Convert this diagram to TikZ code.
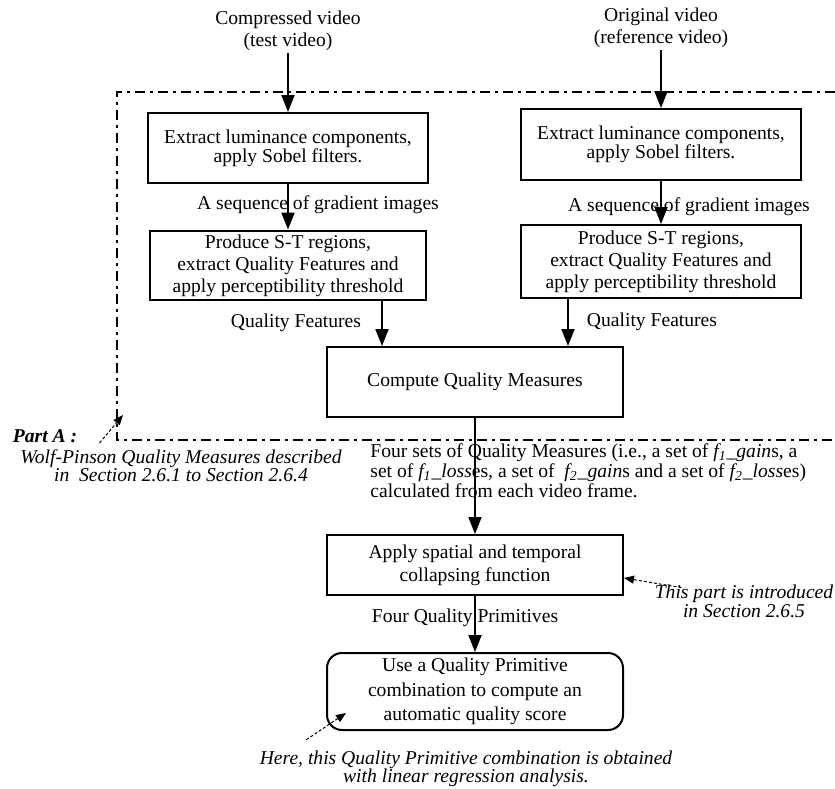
\documentclass[tikz,border=0pt]{standalone}
\usepackage{fontspec}
\setmainfont{Liberation Serif}
\usetikzlibrary{arrows.meta,positioning}
\tikzset{
  procbox/.style={draw=black, line width=1pt, align=center, inner sep=2pt, minimum width=148pt, minimum height=35pt, font=\fontsize{9.8}{11.5}\selectfont},
  flowarr/.style={-{Triangle[length=8.5pt,width=6.5pt]}, line width=1pt},
  flowlbl/.style={align=center, inner sep=1pt, font=\fontsize{9.8}{11}\selectfont},
  notetxt/.style={align=center, inner sep=1pt, font=\fontsize{9.8}{9}\selectfont\itshape},
  notearr/.style={-{Triangle[length=5pt,width=4pt]}, line width=0.5pt, dash pattern=on 1.5pt off 1pt},
  partline/.style={line width=1.1pt, dash pattern=on 5pt off 2.5pt on 1.5pt off 2.5pt}
}

\begin{document}
\begin{tikzpicture}[x=0.5pt,y=-0.5pt]
\useasboundingbox (0,0) rectangle (835,788);
% Part A frame
\draw[partline] (835,92) -- (117,92) -- (117,440) -- (835,440);

% inputs
\node[flowlbl] (cvid) at (288,31) {Compressed video\\(test video)};
\node[flowlbl] (ovid) at (661,28) {Original video\\(reference video)};

% test and reference columns
\node[procbox, minimum width=140pt, font=\fontsize{9.8}{9.5}\selectfont] (extL) at (288,148) {Extract luminance components,\\apply Sobel filters.};
\node[procbox, minimum width=140pt, minimum height=35.5pt, font=\fontsize{9.8}{9.5}\selectfont] (extR) at (661,144.5) {Extract luminance components,\\apply Sobel filters.};
\node[flowlbl] (seqL) at (318,205) {A sequence of gradient images};
\node[flowlbl] (seqR) at (689,207) {A sequence of gradient images};
\node[procbox, minimum width=138pt, minimum height=33.5pt, font=\fontsize{9.8}{11}\selectfont] (prodL) at (288,265.5) {Produce S-T regions,\\extract Quality Features and\\apply perceptibility threshold};
\node[procbox, minimum width=140pt, minimum height=36.5pt, font=\fontsize{9.8}{11}\selectfont] (prodR) at (661,261.5) {Produce S-T regions,\\extract Quality Features and\\apply perceptibility threshold};
\node[flowlbl] (qfL) at (296,323) {Quality Features};
\node[flowlbl] (qfR) at (652,322) {Quality Features};

% measures
\node[procbox] (comp) at (475,382) {Compute Quality Measures};
\node[flowlbl, anchor=west, align=left, font=\fontsize{9.8}{7.4}\selectfont] (qmeas) at (368,471) {Four sets of Quality Measures (i.e., a set of \textit{f\textsubscript{1}\_gain}s, a\\set of \textit{f\textsubscript{1}\_loss}es, a set of~ \textit{f\textsubscript{2}\_gain}s and a set of \textit{f\textsubscript{2}\_loss}es)\\calculated from each video frame.};
\node[procbox, minimum height=30pt] (apply) at (475,565) {Apply spatial and temporal\\collapsing function};
\node[flowlbl] (prims) at (465,618) {Four Quality Primitives};
\node[procbox, rounded corners=7.5pt, minimum height=38.5pt, font=\fontsize{9.8}{12.2}\selectfont] (use) at (475,691.5) {Use a Quality Primitive\\combination to compute an\\automatic quality score};

% notes
\node[notetxt, font=\fontsize{9.8}{9}\selectfont\bfseries\itshape] (partA) at (45,436) {Part A :};
\node[notetxt] (wolf) at (181,466) {Wolf-Pinson Quality Measures described\\in~ Section 2.6.1 to Section 2.6.4};
\node[notetxt, font=\fontsize{9.8}{8.5}\selectfont\itshape] (introd) at (744,601.5) {This part is introduced\\in Section 2.6.5};
\node[notetxt] (here) at (466,769) {Here, this Quality Primitive combination is obtained\\with linear regression analysis.};

\draw[flowarr] (cvid) -- (extL);
\draw[flowarr] (ovid) -- (extR);
\draw[flowarr] (extL) -- (prodL);
\draw[flowarr] (extR) -- (prodR);
\coordinate (qfLout) at ([xshift=47pt]prodL.south);
\coordinate (qfRout) at ([xshift=-46.5pt]prodR.south);
\draw[flowarr] (qfLout) -- (qfLout |- comp.north);
\draw[flowarr] (qfRout) -- (qfRout |- comp.north);
\draw[flowarr] (comp) -- (apply);
\draw[flowarr] (apply) -- (use);

\draw[notearr] ([xshift=10pt,yshift=-3.5pt]partA.east) -- (123,415);
\draw[notearr] ([xshift=14.5pt,yshift=-2.5pt]introd.north west) -- ([yshift=-6.5pt]apply.east);
\draw[notearr] ([xshift=24.5pt,yshift=4.5pt]here.north west) -- ([xshift=10pt,yshift=9pt]use.south west);
\end{tikzpicture}
\end{document}
